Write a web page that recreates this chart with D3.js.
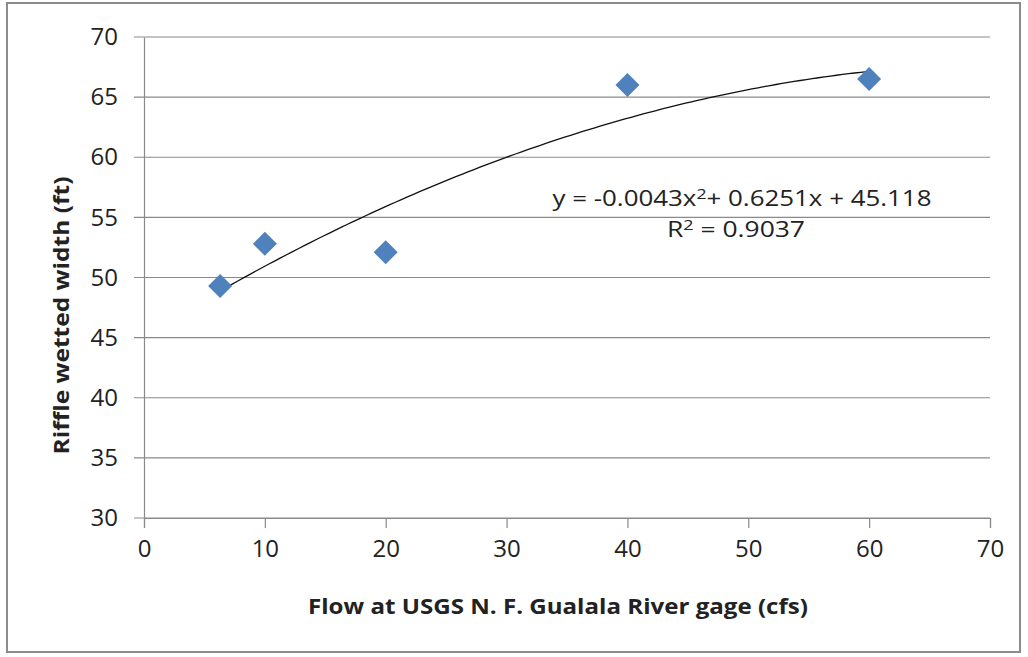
<!DOCTYPE html>
<html>
<head>
<meta charset="utf-8">
<script src="https://cdn.jsdelivr.net/npm/d3@7"></script>
<style>
  body { margin: 0; background: #fff; }
  text { font-family: "Liberation Sans Narrow", "Open Sans", sans-serif; fill: #222; }
</style>
</head>
<body>
<div id="chart"></div>
<script>
// data
const flow = [6.3, 10, 20, 40, 60];
const width = [49.3, 52.8, 52.1, 66.0, 66.5];
const xTicks = [0, 10, 20, 30, 40, 50, 60, 70];
const yTicks = [30, 35, 40, 45, 50, 55, 60, 65, 70];
// trendline coefficients printed on the chart
const coef = [45.118, 0.6251, -0.0043];

const W = 1028, H = 657;
const margin = {top: 37, right: 38, bottom: 139, left: 144};
const w = W - margin.left - margin.right;
const h = H - margin.top - margin.bottom;

const svg = d3.select("#chart").append("svg")
  .attr("width", W).attr("height", H);

// outer frame
svg.append("rect")
  .attr("x", 7).attr("y", 3).attr("width", 1013).attr("height", 649)
  .attr("fill", "none").attr("stroke", "#8c8c8c").attr("stroke-width", 2);

const g = svg.append("g")
  .attr("transform", `translate(${margin.left}, ${margin.top})`);

const xScale = d3.scaleLinear().domain([0, 70]).range([0, w]);
const yScale = d3.scaleLinear().domain([30, 70]).range([h, 0]);

// gridlines
g.selectAll(".grid")
  .data(yTicks)
  .enter()
  .append("line")
  .attr("class", "grid")
  .attr("x1", -10).attr("x2", w)
  .attr("y1", d => yScale(d)).attr("y2", d => yScale(d))
  .attr("stroke", "#8a8a8a").attr("stroke-width", 1.2);

// x-axis
const xAxis = g.append("g")
  .attr("transform", `translate(0, ${h})`)
  .call(d3.axisBottom(xScale).tickValues(xTicks).tickSize(10).tickPadding(12));
xAxis.select(".domain").attr("stroke", "#8a8a8a").attr("stroke-width", 1.2);
xAxis.selectAll(".tick line").attr("stroke", "#8a8a8a").attr("stroke-width", 1.2);
xAxis.selectAll("text").attr("font-size", 24).attr("fill", "#222")
  .style("font-family", "'Liberation Sans Narrow', 'Open Sans', sans-serif");

// y-axis
const yAxis = g.append("g")
  .call(d3.axisLeft(yScale).tickValues(yTicks).tickSize(0).tickPadding(26));
yAxis.select(".domain").attr("stroke", "#8a8a8a").attr("stroke-width", 1.2);
yAxis.selectAll("text").attr("font-size", 24).attr("fill", "#222")
  .style("font-family", "'Liberation Sans Narrow', 'Open Sans', sans-serif");

// axis titles
g.append("text")
  .attr("x", xScale(35) - 9)
  .attr("y", h + 96)
  .attr("text-anchor", "middle")
  .attr("font-size", 21).attr("font-weight", "bold")
  .attr("textLength", 500).attr("lengthAdjust", "spacingAndGlyphs")
  .text("Flow at USGS N. F. Gualala  River gage (cfs)");

g.append("text")
  .attr("transform", `translate(${62 - margin.left}, ${yScale(50) + 38}) rotate(-90)`)
  .attr("text-anchor", "middle")
  .attr("dy", "0.35em")
  .attr("font-size", 21).attr("font-weight", "bold")
  .attr("textLength", 278).attr("lengthAdjust", "spacingAndGlyphs")
  .text("Riffle wetted width (ft)");

// trendline
const trendX = d3.range(d3.min(flow), d3.max(flow) + 0.01, 0.5);
g.append("path")
  .datum(trendX)
  .attr("fill", "none")
  .attr("stroke", "#111")
  .attr("stroke-width", 1.3)
  .attr("d", d3.line()
    .x(d => xScale(d))
    .y(d => yScale(coef[0] + coef[1] * d + coef[2] * d * d)));

// markers
g.selectAll(".pt")
  .data(flow)
  .enter()
  .append("path")
  .attr("class", "pt")
  .attr("transform", (d, i) => `translate(${xScale(d)}, ${yScale(width[i])})`)
  .attr("d", "M0,-12L12,0L0,12L-12,0Z")
  .attr("fill", "#4f81bd");

// equation labels
const eq = g.append("text")
  .attr("x", 742 - margin.left)
  .attr("y", 206 - margin.top)
  .attr("text-anchor", "middle")
  .attr("font-size", 22)
  .attr("textLength", 379).attr("lengthAdjust", "spacingAndGlyphs");
eq.append("tspan").text("y = -0.0043x");
eq.append("tspan").attr("dy", -7).attr("font-size", 15).text("2");
eq.append("tspan").attr("dy", 7).text("+ 0.6251x + 45.118");

const r2 = g.append("text")
  .attr("x", 736 - margin.left)
  .attr("y", 237 - margin.top)
  .attr("text-anchor", "middle")
  .attr("font-size", 22)
  .attr("textLength", 138).attr("lengthAdjust", "spacingAndGlyphs");
r2.append("tspan").text("R");
r2.append("tspan").attr("dy", -7).attr("font-size", 15).text("2");
r2.append("tspan").attr("dy", 7).text(" = 0.9037");
</script>
</body>
</html>
